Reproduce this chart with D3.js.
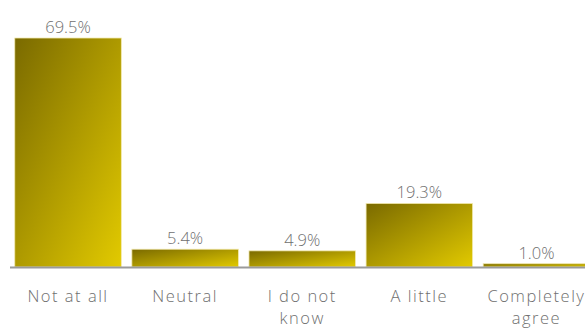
<!DOCTYPE html>
<html><head><meta charset="utf-8">
<script src="https://cdn.jsdelivr.net/npm/d3@7"></script>
<style>
html,body{margin:0;padding:0;background:#fff;overflow:hidden}
text{font-family:"Open Sans","DejaVu Sans",sans-serif;font-weight:300;fill:#6f6f6f}
</style></head><body>
<svg id="c" width="585" height="328"></svg>
<script>
const categories = ["Not at all", "Neutral", "I do not\nknow", "A little", "Completely\nagree"];
const values = [69.5, 5.4, 4.9, 19.3, 1.0];
const valueLabels = ["69.5%", "5.4%", "4.9%", "19.3%", "1.0%"];

const svg = d3.select("#c");
const baseY = 267;
const x = d3.scaleBand().domain(categories).range([9.5, 595]).paddingInner(0.09).paddingOuter(0.045);
const y = d3.scaleLinear().domain([0, 69.5]).range([baseY, 38]);

const defs = svg.append("defs");
const g = defs.append("linearGradient").attr("id", "grad")
  .attr("x1", 0).attr("y1", 0).attr("x2", 1).attr("y2", 1);
g.append("stop").attr("offset", "0%").attr("stop-color", "#7a6a00");
g.append("stop").attr("offset", "100%").attr("stop-color", "#e2ca00");

svg.selectAll("rect.bar").data(values).join("rect")
  .attr("class", "bar")
  .attr("x", (d, i) => x(categories[i]))
  .attr("y", d => y(d))
  .attr("width", x.bandwidth())
  .attr("height", d => baseY - y(d))
  .attr("fill", "url(#grad)")
  .attr("stroke", "#f3eab0").attr("stroke-width", 0.8);

svg.append("line").attr("x1", 10).attr("x2", 585).attr("y1", baseY + 0.5).attr("y2", baseY + 0.5)
  .attr("stroke", "#9a9a9a").attr("stroke-width", 2);

svg.selectAll("text.val").data(values).join("text")
  .attr("class", "val")
  .attr("x", (d, i) => x(categories[i]) + x.bandwidth() / 2)
  .attr("y", d => y(d) - 5)
  .attr("text-anchor", "middle")
  .attr("font-size", 16.5)
  .text((d, i) => valueLabels[i]);

const lines = [];
categories.forEach(c => c.split("\n").forEach((l, i) => lines.push({c, l, i})));
svg.selectAll("text.cat").data(lines).join("text")
  .attr("class", "cat")
  .attr("x", d => x(d.c) + x.bandwidth() / 2)
  .attr("y", d => 301.5 + d.i * 22.6)
  .attr("text-anchor", "middle")
  .attr("font-size", 16.5)
  .attr("letter-spacing", 1.5)
  .text(d => d.l);
</script></body></html>
